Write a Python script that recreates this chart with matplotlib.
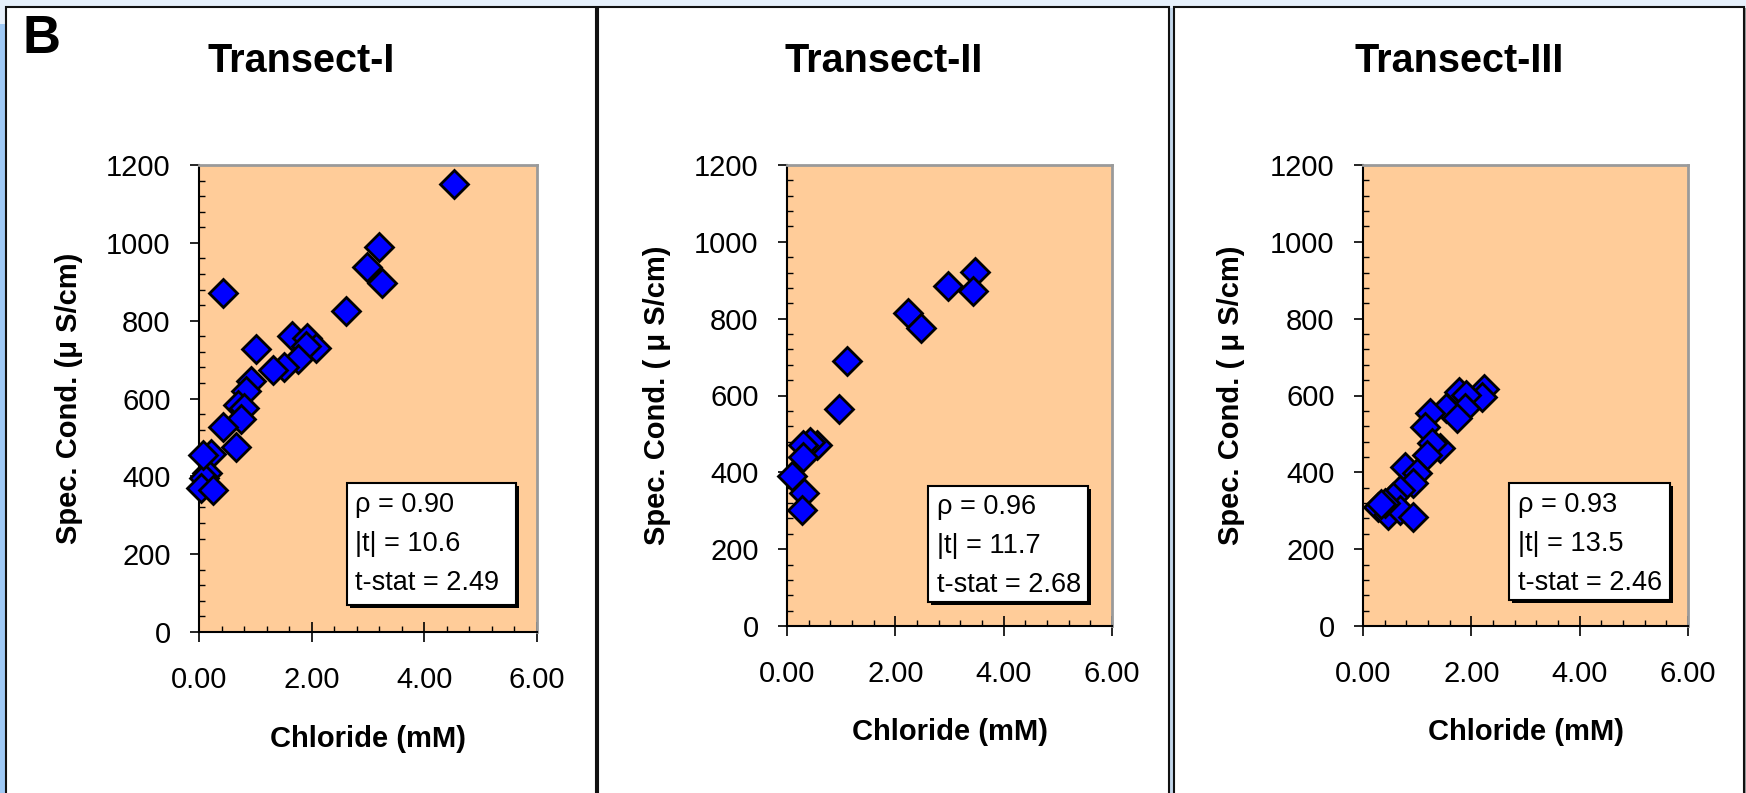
import matplotlib.pyplot as plt
from matplotlib.patches import Rectangle
from matplotlib.ticker import MultipleLocator, FormatStrFormatter
import matplotlib.patheffects as pe

plt.rcParams['font.family'] = ['Liberation Sans', 'DejaVu Sans']

# chloride (mM) vs specific conductance (uS/cm)
t1_cl = [4.53, 3.20, 2.98, 3.25, 0.42, 2.61, 1.65, 1.91, 2.08, 1.90, 1.75, 1.01,
         1.51, 1.31, 0.92, 0.83, 0.70, 0.80, 0.74, 0.43, 0.65, 0.22, 0.14, 0.08,
         0.04, 0.24, 0.07]
t1_sc = [1150, 990, 937, 896, 870, 825, 761, 755, 731, 735, 701, 726,
         680, 673, 645, 620, 583, 575, 547, 528, 475, 457, 409, 395,
         369, 365, 455]

t2_cl = [3.47, 3.43, 2.97, 2.23, 2.47, 1.10, 0.96, 0.55, 0.42, 0.30, 0.30, 0.09,
         0.31, 0.27]
t2_sc = [921, 873, 886, 814, 777, 691, 565, 471, 478, 471, 439, 391,
         345, 302]

t3_cl = [2.23, 2.19, 1.77, 1.91, 1.88, 1.54, 1.73, 1.24, 1.14, 1.42, 1.27, 1.18,
         0.78, 0.99, 0.93, 0.68, 0.56, 0.28, 0.47, 0.68, 0.92, 0.41, 0.33]
t3_sc = [616, 597, 610, 601, 567, 567, 541, 554, 519, 463, 476, 445,
         415, 397, 371, 354, 337, 311, 289, 302, 285, 319, 318]

titles = ['Transect-I', 'Transect-II', 'Transect-III']
ylabels = ['Spec. Cond. (\u03bc S/cm)', 'Spec. Cond. ( \u03bc S/cm)', 'Spec. Cond. ( \u03bc S/cm)']
rho = ['0.90', '0.96', '0.93']
abs_t = ['10.6', '11.7', '13.5']
t_stat = ['2.49', '2.68', '2.46']

W, H = 1746, 793
fig = plt.figure(figsize=(W / 100, H / 100), dpi=100)
fig.patch.set_facecolor('#e6f0fb')

# window-like frame pieces
fig.add_artist(Rectangle((0, 0), 6 / W, 0.97, transform=fig.transFigure,
                         fc='#9fc9f5', ec='none', zorder=0))
fig.add_artist(Rectangle((1169 / W, 0), 5 / W, 0.99, transform=fig.transFigure,
                         fc='#c3d6ea', ec='none', zorder=0))
fig.add_artist(Rectangle((1744 / W, 0), 2 / W, 0.99, transform=fig.transFigure,
                         fc='#9a9a9a', ec='none', zorder=0))

panels = [(6, 596), (598, 1169), (1174, 1744)]
for x0, x1 in panels:
    fig.add_artist(Rectangle((x0 / W, -0.05), (x1 - x0) / W, (793 - 7) / H + 0.05,
                             transform=fig.transFigure, fc='white', ec='#111111',
                             lw=1.5, zorder=0))

# axes boxes in pixels: left, top, right, bottom
boxes = [(199, 165, 537, 632), (787, 165, 1112, 626), (1363, 165, 1688, 626)]
stat_box = [(0.438, 0.058, 0.500, 0.261), (0.434, 0.052, 0.492, 0.252),
            (0.449, 0.056, 0.496, 0.254)]
stat_x = [0.4615, 0.4615, 0.477]
stat_y = [(0.257, 0.173, 0.090), (0.243, 0.158, 0.074), (0.247, 0.163, 0.078)]
ylab_x = [-0.385, -0.40, -0.406]

data = [(t1_cl, t1_sc), (t2_cl, t2_sc), (t3_cl, t3_sc)]

for i, (cl, sc) in enumerate(data):
    l, t, r, b = boxes[i]
    ax = fig.add_axes([l / W, (H - b) / H, (r - l) / W, (b - t) / H])
    ax.set_facecolor('#ffcc99')
    ax.plot(cl, sc, linestyle='none', marker='D', ms=14, mfc='#0000ff',
            mec='black', mew=2.0, clip_on=False, zorder=4)
    ax.set_xlim(0, 6)
    ax.set_ylim(0, 1200)
    ax.xaxis.set_major_locator(MultipleLocator(2))
    ax.xaxis.set_minor_locator(MultipleLocator(0.4))
    ax.xaxis.set_major_formatter(FormatStrFormatter('%.2f'))
    ax.yaxis.set_major_locator(MultipleLocator(200))
    ax.yaxis.set_minor_locator(MultipleLocator(40))
    ax.tick_params(axis='x', which='major', direction='inout', length=14.5,
                   width=1.2, pad=17, labelsize=21)
    ax.tick_params(axis='y', which='major', direction='out', length=6.5,
                   width=1.2, pad=14, labelsize=21)
    ax.tick_params(which='minor', direction='in', length=4.5, width=1.0)
    for s in ['left', 'bottom']:
        ax.spines[s].set_color('black')
        ax.spines[s].set_linewidth(1.5)
    for s in ['top', 'right']:
        ax.spines[s].set_color('#9a9a9a')
        ax.spines[s].set_linewidth(2)

    ax.set_xlabel('Chloride (mM)', fontsize=21, fontweight='bold')
    ax.xaxis.set_label_coords(0.5, -0.2)
    ax.text(ylab_x[i], 0.5, ylabels[i], transform=ax.transAxes, rotation=90,
            ha='center', va='center', fontsize=21, fontweight='bold')

    # stats box with drop shadow
    bx, by, bw, bh = stat_box[i]
    rect = Rectangle((bx, by), bw, bh, transform=ax.transAxes, fc='white',
                     ec='black', lw=1.5, zorder=5)
    rect.set_path_effects([pe.SimplePatchShadow(offset=(2, -2), shadow_rgbFace='black', alpha=1),
                           pe.Normal()])
    ax.add_patch(rect)
    lines = ['\u03c1 = ' + rho[i], '|t| = ' + abs_t[i], 't-stat = ' + t_stat[i]]
    for txt, yy in zip(lines, stat_y[i]):
        ax.text(stat_x[i], yy, txt, transform=ax.transAxes, fontsize=19.5,
                ha='left', va='baseline', zorder=6)

    x0, x1 = panels[i]
    fig.text((x0 + x1) / 2 / W, 1 - 72 / H, titles[i], ha='center', va='baseline',
             fontsize=28.5, fontweight='bold')

fig.text(22 / W, 1 - 53 / H, 'B', ha='left', va='baseline', fontsize=38,
         fontweight='bold')

fig.savefig('out.png', dpi=100)
